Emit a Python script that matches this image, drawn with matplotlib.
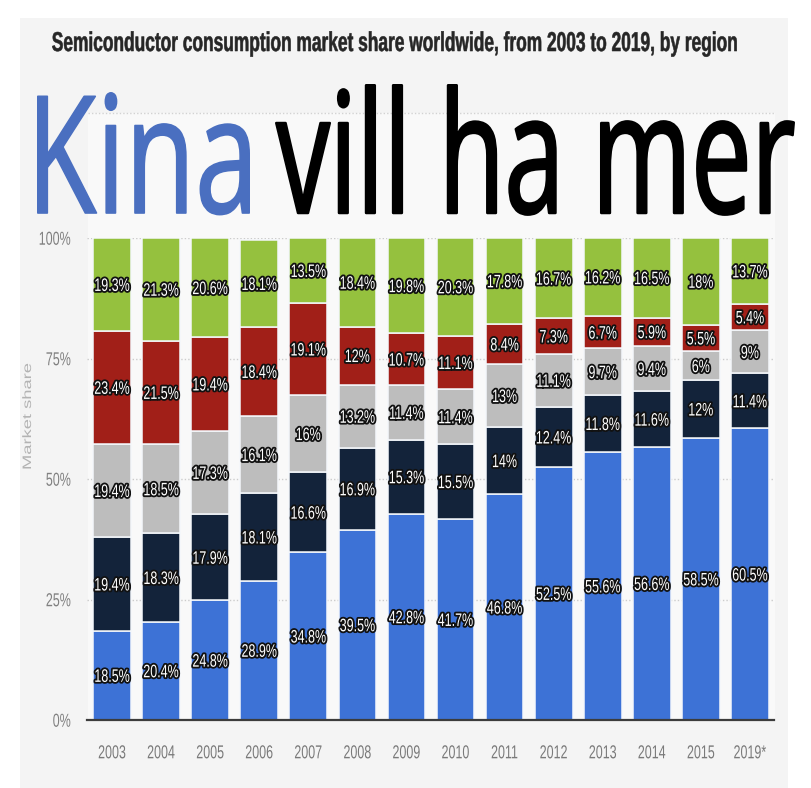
import numpy as np
import matplotlib
matplotlib.use("Agg")
import matplotlib.pyplot as plt
from matplotlib.font_manager import FontProperties
from matplotlib.patches import Rectangle
from matplotlib.patheffects import AbstractPathEffect
from matplotlib.textpath import TextPath
from matplotlib.transforms import Affine2D, ScaledTranslation

# --- data (bottom to top in each bar) ---
years = ['2003', '2004', '2005', '2006', '2007', '2008', '2009',
         '2010', '2011', '2012', '2013', '2014', '2015', '2019*']
blue_share = [18.5, 20.4, 24.8, 28.9, 34.8, 39.5, 42.8, 41.7, 46.8, 52.5, 55.6, 56.6, 58.5, 60.5]
navy_share = [19.4, 18.3, 17.9, 18.1, 16.6, 16.9, 15.3, 15.5, 14, 12.4, 11.8, 11.6, 12, 11.4]
gray_share = [19.4, 18.5, 17.3, 16.1, 16, 13.2, 11.4, 11.4, 13, 11.1, 9.7, 9.4, 6, 9]
red_share = [23.4, 21.5, 19.4, 18.4, 19.1, 12, 10.7, 11.1, 8.4, 7.3, 6.7, 5.9, 5.5, 5.4]
green_share = [19.3, 21.3, 20.6, 18.1, 13.5, 18.4, 19.8, 20.3, 17.8, 16.7, 16.2, 16.5, 18, 13.7]
yticks = [0, 25, 50, 75, 100]
ytick_labels = ['0%', '25%', '50%', '75%', '100%']

title = 'Semiconductor consumption market share worldwide, from 2003 to 2019, by region'
headline_blue = 'Kina'
headline_black = 'vill ha mer'

W, H, DPI = 812, 788, 100
CHART_FONT = 'Liberation Sans'


class Squash(AbstractPathEffect):
    """Scale glyphs about the text origin (the source image is a squeezed screenshot)."""

    def __init__(self, sy, sx=1.0, anchor=0.0, stroke=None, stroke_color='black'):
        super().__init__()
        self.sx = sx
        self.sy = sy
        self.anchor = anchor
        self.stroke = stroke
        self.stroke_color = stroke_color

    def draw_path(self, renderer, gc, tpath, affine, rgbFace=None):
        m = affine.get_matrix()
        em = np.hypot(m[0, 0], m[1, 0]) * 100
        x0, y0 = m[0, 2], m[1, 2] + self.anchor * em
        tr = affine + Affine2D().translate(-x0, -y0).scale(self.sx, self.sy).translate(x0, y0)
        if self.stroke:
            gc0 = renderer.new_gc()
            gc0.copy_properties(gc)
            gc0.set_linewidth(self.stroke)
            gc0.set_foreground(self.stroke_color)
            gc0.set_joinstyle('round')
            renderer.draw_path(gc0, tpath, tr, None)
            gc0.restore()
        renderer.draw_path(gc, tpath, tr, rgbFace)


fig = plt.figure(figsize=(W / DPI, H / DPI), dpi=DPI)
fig.patch.set_facecolor('white')

# background panel in pixel coordinates (y down)
bg = fig.add_axes([0, 0, 1, 1], zorder=0)
bg.axis('off')
bg.add_patch(Rectangle((20, 18), 768, 770, color='#f4f4f4', lw=0))
grad = np.linspace(0, 1, 60)[:, None]
grad_rgb = np.dstack([0.957 - 0.08 * grad] * 3)
bg.imshow(grad_rgb, extent=[20, 788, 788, 735], aspect='auto', interpolation='bilinear')
bg.add_patch(Rectangle((88, 113), 687, 607, color='#f9f9f9', lw=0))
bg.plot([88, 775], [113, 113], color='#d2d2d2', lw=1, ls=(0, (1, 1.5)))
bg.set_xlim(0, W)
bg.set_ylim(H, 0)


def fit_text(s, family, weight, left, right, top, base, color, stroke=None, k=1.0):
    # size the glyph outlines to the box they fill in the reference
    fp = FontProperties(family=family, weight=weight)
    ext = TextPath((0, 0), s, size=100, prop=fp).get_extents()
    pad = (stroke or 0) * DPI / 72 / 2
    px = 100 * (right - left - 2 * pad) / ext.width
    sy = (base - top - pad) / (ext.y1 * px / 100)
    fx = Squash(sy / k, sx=1 / k, stroke=stroke, stroke_color=color)
    fig.text(left + pad - ext.x0 * px / 100, base, s, transform=bg.transData,
             fontsize=px * k * 72 / DPI, family=family, weight=weight, color=color,
             ha='left', va='baseline', path_effects=[fx], zorder=5)


fit_text(title, CHART_FONT, 'bold', 52, 737, 31, 51, '#262626', stroke=0.4)
fit_text(headline_blue, 'Open Sans', 'normal', 37, 250, 92, 213, '#4a6fc0', stroke=1.2, k=0.5)
fit_text(headline_black, 'Open Sans', 'normal', 275, 795, 84, 213, 'black', stroke=1.8, k=0.5)

# --- stacked bars ---
ax = fig.add_axes([87.5 / W, (H - 720) / H, 687 / W, 482 / H], zorder=1)
ax.set_facecolor('none')

x = np.arange(len(years))
series = [blue_share, navy_share, gray_share, red_share, green_share]
colors = ['#3d72d6', '#13233a', '#bdbdbd', '#a11f18', '#95c13e']
bottom = np.zeros(len(years))
label_fx = [Squash(1.45, anchor=0.355, stroke=2.6, stroke_color='#111111')]
shift = ScaledTranslation(0, -0.355 * 12.5 / DPI, fig.dpi_scale_trans)
for vals, c in zip(series, colors):
    vals = np.array(vals, dtype=float)
    ax.bar(x, vals, width=0.77, bottom=bottom, color=c, edgecolor='#f4f7fb', linewidth=1.1, zorder=2)
    for xi, b, v in zip(x, bottom, vals):
        ax.text(xi, b + v / 2, f'{v:g}%', ha='center', va='baseline', fontsize=9,
                family=CHART_FONT, color='white', path_effects=label_fx,
                transform=ax.transData + shift, zorder=4)
    bottom += vals

ax.set_xlim(-0.5, len(years) - 0.5)
ax.set_ylim(0, 100)
ax.set_yticks(yticks)
ax.set_yticklabels(ytick_labels, family=CHART_FONT, fontsize=9, color='#808080')
ax.set_xticks(x)
ax.set_xticklabels(years, family=CHART_FONT, fontsize=9, color='#7a7a7a')
ax.tick_params(axis='x', length=0, pad=19.5)
ax.tick_params(axis='y', length=0, pad=11.9)
for lbl in ax.get_xticklabels() + ax.get_yticklabels():
    lbl.set_path_effects([Squash(1.5, anchor=0.355)])

ax.yaxis.grid(True, color='#cccccc', lw=1, ls=(0, (1, 1.5)))
ax.set_axisbelow(True)
for side in ['top', 'right', 'left']:
    ax.spines[side].set_visible(False)
ax.spines['bottom'].set_color('#3c3c3c')
ax.spines['bottom'].set_linewidth(1.6)
ax.spines['bottom'].set_zorder(3)

fig.text(28, 470, 'Market share', transform=bg.transData, rotation=90, ha='center', va='bottom',
         fontsize=8.8, family=CHART_FONT, color='#b3b3b3', path_effects=[Squash(1.5)])

fig.savefig('out.png', dpi=DPI)
